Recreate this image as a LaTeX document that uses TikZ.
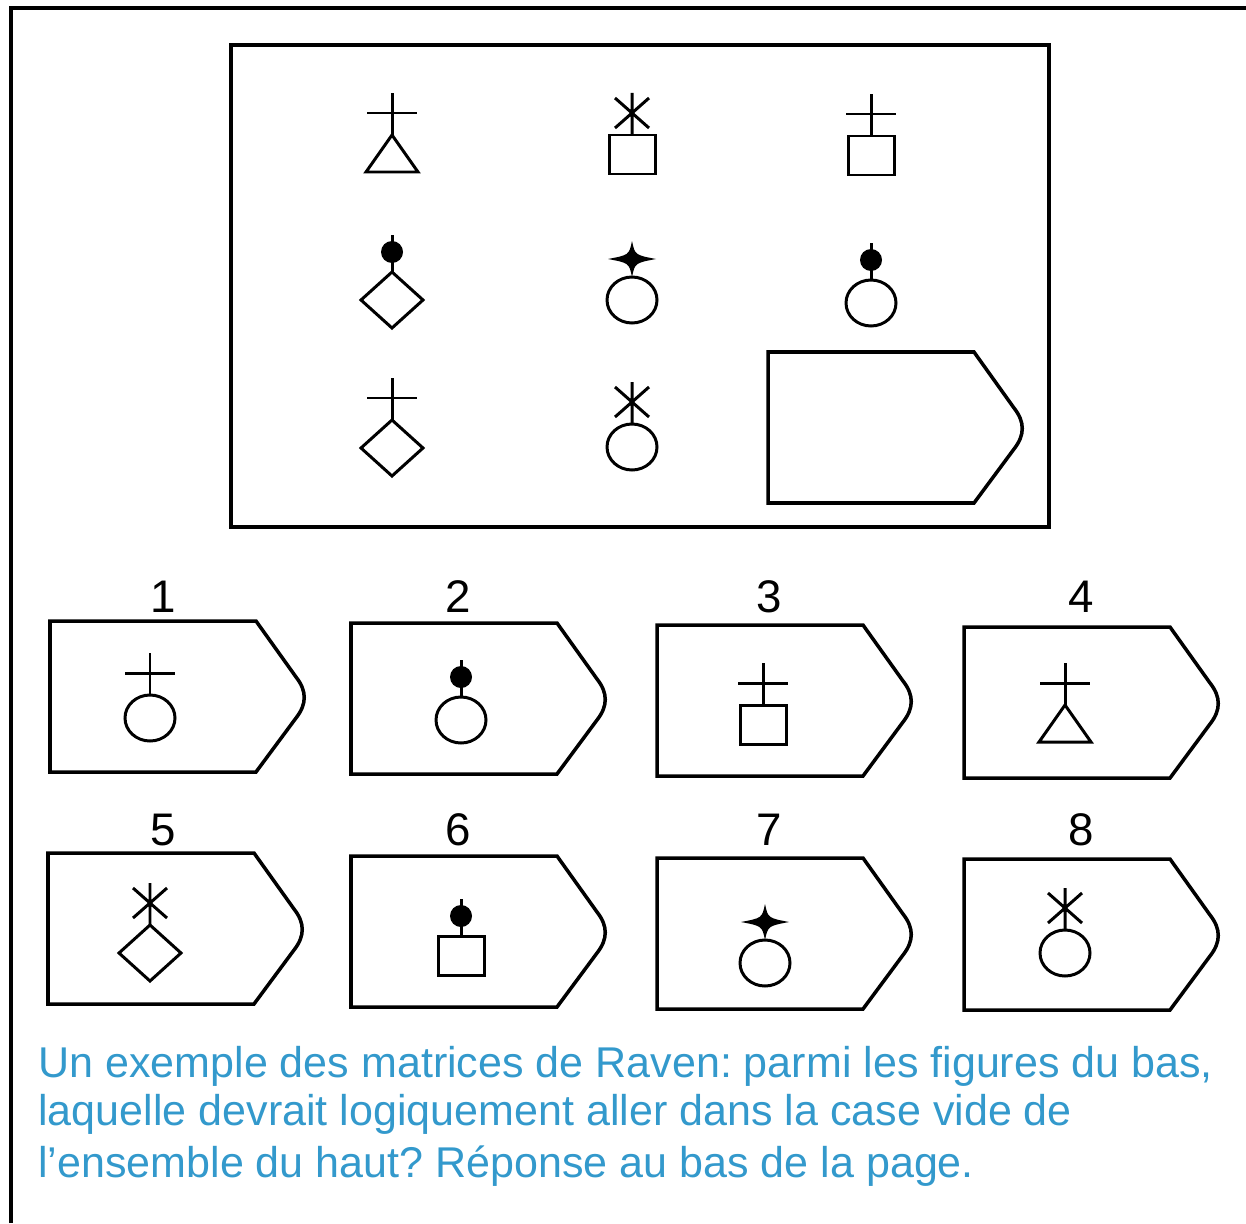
\documentclass[tikz,border=0pt]{standalone}
\usepackage{fontspec}
\setmainfont{Liberation Sans}
\definecolor{capblue}{HTML}{3399CC}
\frenchspacing

\begin{document}
\begin{tikzpicture}[x=0.02cm,y=-0.02cm,
            shape line/.style={line width=1.7pt},
            card line/.style={line width=2pt},
            num/.style={font=\fontsize{26}{30}\selectfont,anchor=base,inner sep=0},
            caption/.style={font=\fontsize{24.5}{28}\selectfont,text=capblue,anchor=base west,inner sep=0},
            plus/.pic={\draw[shape line] (0,0) -- (0,-42) (-25,-22) -- (25,-22);},
            aster/.pic={\draw[shape line] (0,0) -- (0,-42) (-17,-37) -- (17,-7) (-17,-7) -- (17,-37);},
            blob/.pic={\draw[shape line] (0,0) -- (0,-37); \fill (0,-20) circle (11);},
            star/.pic={\fill (0,-36) .. controls (3,-22) .. (24,-18) .. controls (3,-14) .. (0,0)
                             .. controls (-3,-14) .. (-24,-18) .. controls (-3,-22) .. cycle;},
            tri/.pic={\draw[shape line] (0,0) -- (26,37) -- (-26,37) -- cycle;},
            sq/.pic={\draw[shape line] (-23,0) rectangle (23,39);},
            diam/.pic={\draw[shape line] (0,0) -- (31,28) -- (0,56) -- (-31,28) -- cycle;},
            circ/.pic={\draw[shape line] (0,23) ellipse [x radius=25,y radius=23];},
            card/.pic={\draw[card line] (0,0) -- (206,0) -- (246,56) .. controls (257,70) and (257,83) .. (246,97)
                             -- (206,151) -- (0,151) -- cycle;}]
            \useasboundingbox (0,0) rectangle (1246,1223);
            \draw[line width=2.4pt] (11,1223) -- (11,8) -- (1246,8);
            %==================
            % the matrix
            \draw[card line] (231,45) rectangle (1049,527);
            \foreach \x/\y/\t/\b in {392/135/plus/tri,632/135/aster/sq,871/136/plus/sq,
                                     392/272/blob/diam,632/277/star/circ,871/280/blob/circ,
                                     392/420/plus/diam,632/424/aster/circ}{
            \pic at (\x,\y) {\t};
            \pic at (\x,\y) {\b};
            }
            \pic (empty) at (768,352) {card};
            % ===================
            % the answers
            \foreach \n/\x/\y/\l/\ly/\t/\b/\sx/\sy in {1/50/621/163/612/plus/circ/150/695,2/351/623/458/612/blob/circ/461/697,
                                     3/657/625/769/612/plus/sq/763/705,4/964/627/1081/612/plus/tri/1065/705,
                                     5/48/853/163/845/aster/diam/150/925,6/351/856/458/845/blob/sq/461/936,
                                     7/657/858/769/845/star/circ/765/940,8/964/859/1081/845/aster/circ/1065/930}{
            \pic (ans\n) at (\x,\y) {card};
            \node[num] (lab\n) at (\l,\ly) {\n};
            \pic at (\sx,\sy) {\t};
            \pic at (\sx,\sy) {\b};
            }
            % ===================
            \node[caption] (cap1) at (38,1077) {Un exemple des matrices de Raven: parmi les figures du bas,};
            \node[caption] (cap2) at (38,1125) {laquelle devrait logiquement aller dans la case vide de};
            \node[caption] (cap3) at (38,1177) {l’ensemble du haut? Réponse au bas de la page.};
        \end{tikzpicture}
\end{document}
